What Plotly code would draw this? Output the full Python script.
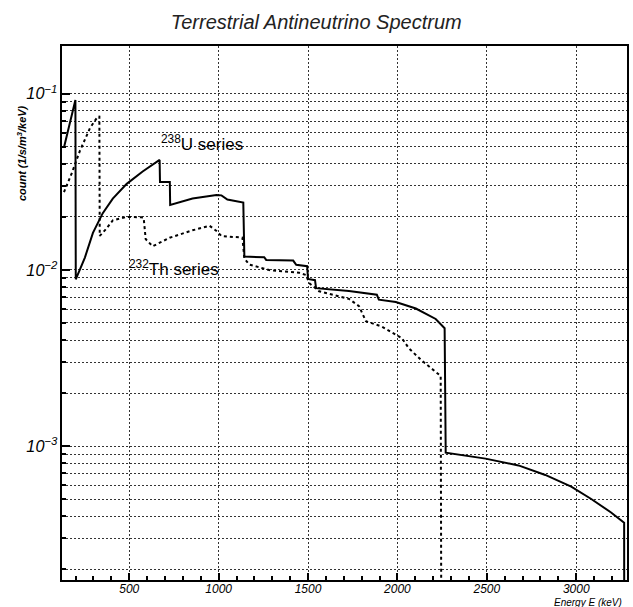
import plotly.graph_objects as go

# ---- data (energy in keV, count in 1/s/m^3/keV) ----
U_energy = [135, 199, 201, 252, 297, 352, 408, 486, 575, 670, 672, 727, 729, 854,
            988, 1016, 1049, 1138, 1144, 1255, 1266, 1417, 1434, 1495, 1500, 1539,
            1545, 1729, 1885, 1896, 1991, 2103, 2214, 2264, 2270, 2493, 2677, 2827,
            2972, 3084, 3195, 3268, 3270]
U_flux = [0.0495, 0.0921, 0.00885, 0.01175, 0.01622, 0.0210, 0.0254, 0.0308, 0.0362,
          0.0421, 0.0316, 0.0316, 0.0234, 0.0254, 0.0266, 0.0265, 0.0251, 0.0241,
          0.0119, 0.0118, 0.0114, 0.0113, 0.0107, 0.0105, 0.00888, 0.00875, 0.00788,
          0.0076, 0.00724, 0.00678, 0.00657, 0.00604, 0.00527, 0.00467, 0.000918,
          0.000849, 0.000777, 0.000686, 0.000589, 0.000501, 0.00042, 0.000367, 1e-6]

Th_energy = [135, 180, 224, 280, 324, 333, 335, 369, 408, 486, 570, 581, 592, 631,
             726, 854, 949, 988, 1016, 1133, 1144, 1172, 1283, 1450, 1489, 1506,
             1562, 1729, 1785, 1824, 1913, 2025, 2064, 2136, 2242, 2250]
Th_flux = [0.0276, 0.0357, 0.0474, 0.0637, 0.0743, 0.0742, 0.0156, 0.0170, 0.0191,
           0.0200, 0.0199, 0.0197, 0.01495, 0.01362, 0.01523, 0.01678, 0.01781,
           0.01665, 0.01557, 0.01526, 0.0116, 0.01072, 0.00998, 0.00963, 0.00936,
           0.00843, 0.00757, 0.00685, 0.00623, 0.00511, 0.00477, 0.0041, 0.00359,
           0.00306, 0.0025, 1e-6]

title_text = "Terrestrial Antineutrino Spectrum"
x_title = "Energy E (keV)"
y_title = "count (1/s/m<sup>3</sup>/keV)"
u_label = "<sup>238</sup>U series"
th_label = "<sup>232</sup>Th series"

FONT = "Liberation Sans"
GRID_DASH = "2px,2px"

fig = go.Figure()
fig.add_trace(go.Scatter(x=U_energy, y=U_flux, mode="lines",
                         line=dict(color="black", width=2), showlegend=False,
                         name="238U series"))
fig.add_trace(go.Scatter(x=Th_energy, y=Th_flux, mode="lines",
                         line=dict(color="black", width=2, dash="3px,3px"),
                         showlegend=False, name="232Th series"))

grid = dict(showgrid=True, gridcolor="#333", griddash=GRID_DASH, gridwidth=1)

fig.update_layout(
    width=633, height=607,
    margin=dict(l=62, r=4, t=46, b=27),
    paper_bgcolor="white", plot_bgcolor="white",
    font=dict(family=FONT, color="black"),
    title=dict(text=title_text, x=0.45, xref="paper", y=0.963, yref="container",
               xanchor="center", yanchor="middle",
               font=dict(family=FONT, size=20, style="italic", color="#222")),
    xaxis=dict(range=[124, 3284], tickmode="linear", tick0=0, dtick=500,
               ticks="inside", ticklen=7, tickwidth=1.5, tickcolor="black",
               showline=True, linecolor="black", linewidth=2, mirror=True,
               zeroline=False, ticklabelstandoff=-3,
               tickfont=dict(family=FONT, size=12, style="italic"),
               minor=dict(dtick=100, ticks="inside", ticklen=4, tickcolor="black",
                          showgrid=False),
               **grid),
    yaxis=dict(type="log", range=[-3.76, -0.729], dtick=1,
               exponentformat="power",
               ticks="inside", ticklen=8, tickwidth=1.5, tickcolor="black",
               showline=True, linecolor="black", linewidth=2, mirror=True,
               zeroline=False,
               tickfont=dict(family=FONT, size=13, style="italic"),
               minor=dict(dtick="D1", ticks="inside", ticklen=4, tickcolor="black",
                          showgrid=True, gridcolor="#333", griddash=GRID_DASH,
                          gridwidth=1),
               **grid),
    annotations=[
        dict(text=u_label, xref="paper", yref="paper", x=0.247, y=0.818,
             showarrow=False, xanchor="center", yanchor="middle",
             font=dict(family=FONT, size=17, color="black")),
        dict(text=th_label, xref="paper", yref="paper", x=0.199, y=0.584,
             showarrow=False, xanchor="center", yanchor="middle",
             font=dict(family=FONT, size=17, color="black")),
        dict(text=x_title, xref="paper", yref="paper", x=0.995, y=-0.0425,
             showarrow=False, xanchor="right", yanchor="middle",
             font=dict(family=FONT, size=10, style="italic", color="black")),
        dict(text=y_title, xref="paper", yref="paper", x=-0.072, y=0.80,
             textangle=-90, showarrow=False, xanchor="center", yanchor="middle",
             font=dict(family=FONT, size=11, style="italic", weight="bold",
                       color="black")),
    ],
)

fig.write_html("out.html")
